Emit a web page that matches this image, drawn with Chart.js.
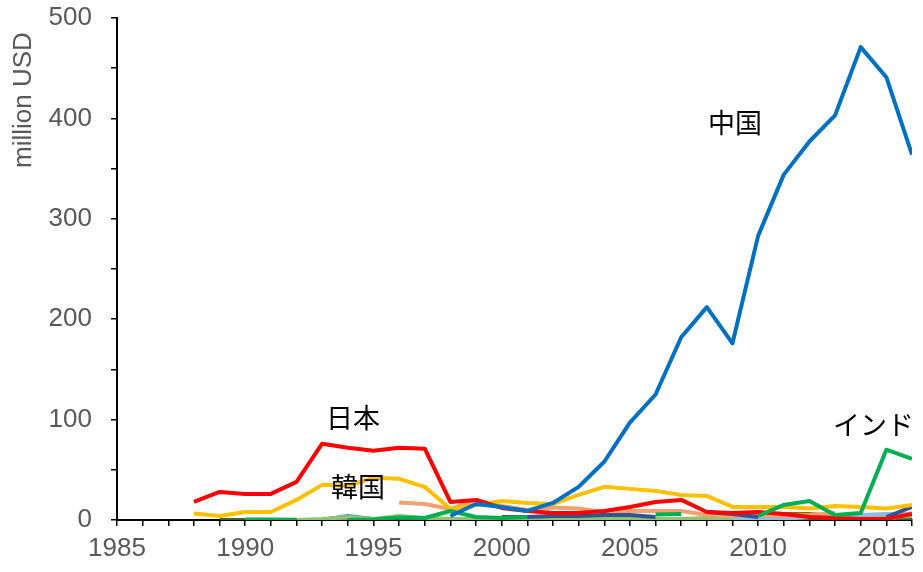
<!DOCTYPE html>
<html>
<head>
<meta charset="utf-8">
<script src="https://cdn.jsdelivr.net/npm/chart.js@4"></script>
<style>
  html, body { margin: 0; padding: 0; background: #ffffff; }
  #wrap { width: 923px; height: 572px; position: relative; }
</style>
</head>
<body>
<div id="wrap"><canvas id="c"></canvas></div>
<script>
// ---- Data (values in million USD), years 1985..2016 ----
const years = [1985,1986,1987,1988,1989,1990,1991,1992,1993,1994,1995,1996,1997,1998,1999,2000,2001,2002,2003,2004,2005,2006,2007,2008,2009,2010,2011,2012,2013,2014,2015,2016];
const N = null;
const china      = [N,N,N,N,N,N,N,N,N,N,N,N,N, 4,16,13, 9,17,33,58,97,125,182,212,176,283,344,377,403,471,441,364];
const japan      = [N,N,N,18,28,26,26,38,76,72,69,72,71,18,20,12, 9, 7, 7, 9,13,18,20, 8, 7, 8, 6, 3, 2, 1, 1, 6];
const korea      = [N,N,N,6.5,4,8,8,20,35,34,42,41,33,11,15,19,17,16,25,33,31,29,25,24,13,13,13,11.5,14,13,11.5,15];
const india      = [N,N,N,N,N,0.5,0.5,0.3,N,0,0.5,2.5,2,9,3,2,3,N,N,N,N,5.5,6,N,N,4,15,19,5,7,70,61];
const orange     = [N,N,N,N,N,N,N,N,N,N,N,17.5,16,11,20,14,10,12.5,11.5,8,9,9,9,5,4,5,4,5,7,N,0,7];
const darkBlue   = [N,N,N,N,N,N,N,N,N,N,N,N,N,N,N,3,3,4,4,5,5,3,N,8,6,3,N,N,N,N,3,13];
const lightBlue  = [N,N,N,N,N,N,N,N,N,N,N,N,N,N,N,N,N,N,N,N,N,N,N,N,0.5,0.5,1,3,4,5,6,6];
const lightGreen = [N,N,N,N,N,N,N,0,1,3,1,4,2,1,1,1.5,2,2,2,2,1,1,1,2,2,3,4,4,3,3,3,4];
const olive      = [N,N,N,N,N,N,N,N,N,N,N,N,N,N,N,N,N,N,N,N,N,N,N,N,N,N,6,6,4,N,N,N];
const darkGreen  = [N,N,N,N,0,0,N,N,N,N,N,1,0.5,0,0,0,0,0,0.5,1,0.5,0,0,0,0,0,0,0,0,0,0,1];
const gray       = [N,N,N,N,N,N,N,N,0,0,N,N,N,N,N,N,N,N,N,N,N,N,N,N,N,N,N,N,N,N,N,N];
const blue2      = [N,N,N,N,N,N,N,N,0,4,1,N,N,N,N,N,N,N,N,N,N,N,N,N,N,N,N,N,N,N,N,N];

const xTickLabels = [1985, 1990, 1995, 2000, 2005, 2010, 2015];
const yTickLabels = [0, 100, 200, 300, 400, 500];
const yTitle = 'million USD';
const annotations = [
  { text: '中国',   year: 2009.1, value: 396 },
  { text: '日本',   year: 1994.2, value: 101.6 },
  { text: '韓国',   year: 1994.4, value: 32.9 },
  { text: 'インド', year: 2014.5, value: 94.6 }
];

function ds(data, color) {
  return { data: data, borderColor: color, backgroundColor: color, borderWidth: 4,
           pointRadius: 0, tension: 0, spanGaps: false, fill: false, borderJoinStyle: 'round' };
}

const datasets = [
  ds(china, '#0070C0'),
  ds(india, '#00B050'),
  ds(japan, '#FF0000'),
  ds(korea, '#FFC000'),
  ds(darkBlue, '#2F5597'),
  ds(orange, '#F4A070'),
  ds(lightBlue, '#8FBBE6'),
  ds(olive, '#8A6A00'),
  ds(lightGreen, '#8EC46C'),
  ds(darkGreen, '#3B6326'),
  ds(gray, '#808080'),
  ds(blue2, '#4A90D0')
];

const textPlugin = {
  id: 'texts',
  afterDatasetsDraw(chart) {
    const ctx = chart.ctx;
    const xs = chart.scales.x, ys = chart.scales.y;
    ctx.save();
    ctx.fillStyle = '#000000';
    ctx.font = '27px "Noto Sans CJK JP", sans-serif';
    ctx.textAlign = 'center';
    ctx.textBaseline = 'middle';
    annotations.forEach(a => {
      ctx.fillText(a.text, xs.getPixelForValue(a.year), ys.getPixelForValue(a.value));
    });
    ctx.restore();
    // y-axis title
    ctx.save();
    ctx.fillStyle = '#595959';
    ctx.font = '26px "Liberation Sans", Arial, sans-serif';
    ctx.translate(24, chart.chartArea.top + 82);
    ctx.rotate(-Math.PI / 2);
    ctx.textAlign = 'center';
    ctx.textBaseline = 'middle';
    ctx.fillText(yTitle, 0, 0);
    ctx.restore();
  }
};

const tickFont = { family: '"Liberation Sans", Arial, sans-serif', size: 26 };

new Chart(document.getElementById('c'), {
  type: 'line',
  data: { labels: years, datasets: datasets },
  options: {
    responsive: true,
    maintainAspectRatio: false,
    animation: false,
    devicePixelRatio: 1,
    layout: { padding: { top: 18, right: 11, left: 0, bottom: 0 } },
    plugins: { legend: { display: false }, tooltip: { enabled: false } },
    scales: {
      x: {
        type: 'linear', min: 1985, max: 2016,
        afterFit: s => { s.height = 52; },
        grid: { drawOnChartArea: false, drawTicks: true, tickLength: 6, color: '#000000', lineWidth: 1.5 },
        border: { display: true, color: '#000000', width: 2 },
        ticks: { stepSize: 1, autoSkip: false, maxRotation: 0, padding: 7, color: '#595959', font: tickFont,
                 callback: v => xTickLabels.includes(v) ? String(v) : '' }
      },
      y: {
        min: 0, max: 500,
        afterFit: s => { s.width = 117; s.paddingTop = 0; s.paddingBottom = 0; },
        grid: { drawOnChartArea: false, drawTicks: true, tickLength: 6, color: '#000000', lineWidth: 1.5 },
        border: { display: true, color: '#000000', width: 2 },
        ticks: { stepSize: 50, autoSkip: false, padding: 19, color: '#595959', font: tickFont,
                 callback: v => yTickLabels.includes(v) ? String(v) : '' }
      }
    }
  },
  plugins: [textPlugin]
});
</script>
</body>
</html>
